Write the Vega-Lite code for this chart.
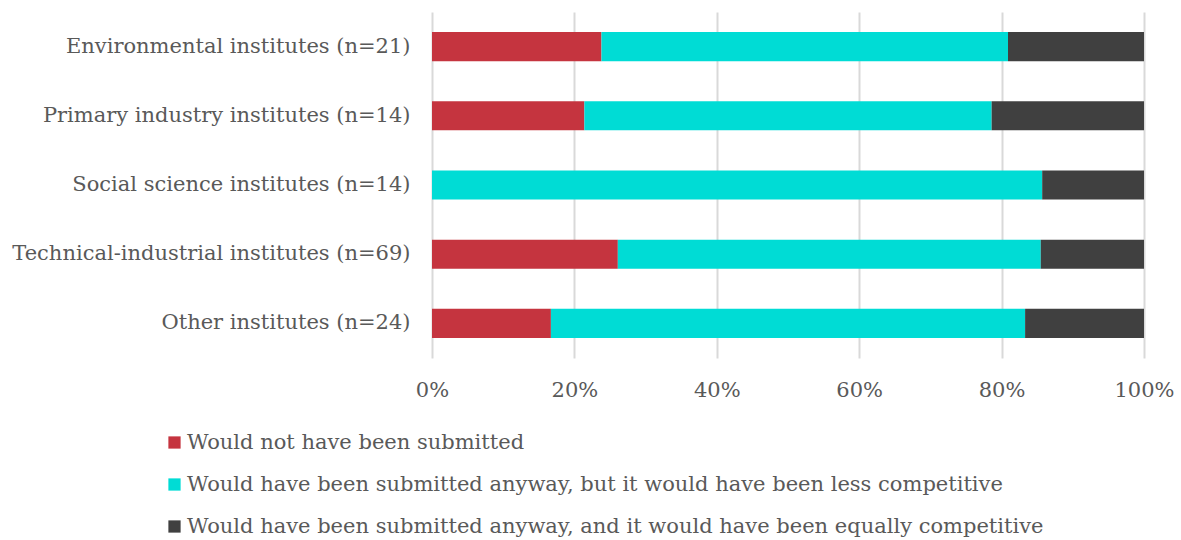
{
  "$schema": "https://vega.github.io/schema/vega-lite/v6.json",
  "autosize": {"type": "none"},
  "width": 712,
  "height": 346,
  "padding": {"left": 432, "top": 12, "right": 37, "bottom": 182},
  "background": "white",
  "config": {
    "font": "DejaVu Serif",
    "view": {"stroke": null}
  },
  "data": {
    "values": [
      {"group": "Environmental institutes (n=21)", "answer": "Would not have been submitted", "o": 1, "share": 0.238},
      {"group": "Environmental institutes (n=21)", "answer": "Would have been submitted anyway, but it would have been less competitive", "o": 2, "share": 0.571},
      {"group": "Environmental institutes (n=21)", "answer": "Would have been submitted anyway, and it would have been equally competitive", "o": 3, "share": 0.191},
      {"group": "Primary industry institutes (n=14)", "answer": "Would not have been submitted", "o": 1, "share": 0.214},
      {"group": "Primary industry institutes (n=14)", "answer": "Would have been submitted anyway, but it would have been less competitive", "o": 2, "share": 0.572},
      {"group": "Primary industry institutes (n=14)", "answer": "Would have been submitted anyway, and it would have been equally competitive", "o": 3, "share": 0.214},
      {"group": "Social science institutes (n=14)", "answer": "Would not have been submitted", "o": 1, "share": 0.0},
      {"group": "Social science institutes (n=14)", "answer": "Would have been submitted anyway, but it would have been less competitive", "o": 2, "share": 0.857},
      {"group": "Social science institutes (n=14)", "answer": "Would have been submitted anyway, and it would have been equally competitive", "o": 3, "share": 0.143},
      {"group": "Technical-industrial institutes (n=69)", "answer": "Would not have been submitted", "o": 1, "share": 0.261},
      {"group": "Technical-industrial institutes (n=69)", "answer": "Would have been submitted anyway, but it would have been less competitive", "o": 2, "share": 0.594},
      {"group": "Technical-industrial institutes (n=69)", "answer": "Would have been submitted anyway, and it would have been equally competitive", "o": 3, "share": 0.145},
      {"group": "Other institutes (n=24)", "answer": "Would not have been submitted", "o": 1, "share": 0.167},
      {"group": "Other institutes (n=24)", "answer": "Would have been submitted anyway, but it would have been less competitive", "o": 2, "share": 0.666},
      {"group": "Other institutes (n=24)", "answer": "Would have been submitted anyway, and it would have been equally competitive", "o": 3, "share": 0.167}
    ]
  },
  "mark": {"type": "bar"},
  "encoding": {
    "y": {
      "field": "group",
      "type": "nominal",
      "sort": null,
      "scale": {"paddingInner": 0.58, "paddingOuter": 0.29},
      "axis": {
        "title": null,
        "domain": false,
        "ticks": false,
        "labelFontSize": 21,
        "labelColor": "#595959",
        "labelPadding": 22,
        "labelLimit": 500
      }
    },
    "x": {
      "field": "share",
      "type": "quantitative",
      "stack": "zero",
      "scale": {"domain": [0, 1], "nice": false},
      "axis": {
        "title": null,
        "format": ".0%",
        "values": [0, 0.2, 0.4, 0.6, 0.8, 1],
        "domain": false,
        "ticks": false,
        "grid": true,
        "gridColor": "#d9d9d9",
        "gridWidth": 2,
        "labelFlush": false,
        "labelFontSize": 21,
        "labelColor": "#595959",
        "labelPadding": 21
      }
    },
    "order": {"field": "o", "type": "quantitative"},
    "color": {
      "field": "answer",
      "type": "nominal",
      "sort": [
        "Would not have been submitted",
        "Would have been submitted anyway, but it would have been less competitive",
        "Would have been submitted anyway, and it would have been equally competitive"
      ],
      "scale": {
        "domain": [
          "Would not have been submitted",
          "Would have been submitted anyway, but it would have been less competitive",
          "Would have been submitted anyway, and it would have been equally competitive"
        ],
        "range": ["#c5343f", "#00dcd5", "#404040"]
      },
      "legend": {
        "title": null,
        "orient": "none",
        "legendX": -268,
        "legendY": 420,
        "direction": "vertical",
        "symbolType": "square",
        "symbolSize": 150,
        "symbolStrokeWidth": 0,
        "labelFontSize": 21,
        "labelColor": "#595959",
        "labelLimit": 1000,
        "labelOffset": 2,
        "rowPadding": 20
      }
    }
  }
}
